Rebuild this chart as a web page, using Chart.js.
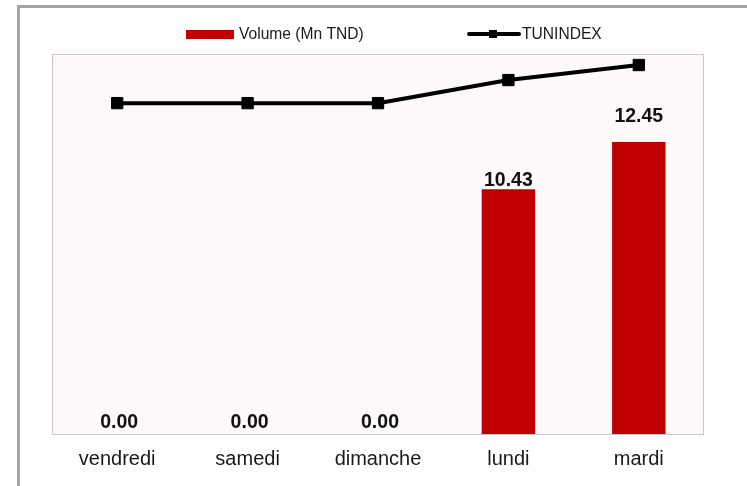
<!DOCTYPE html>
<html>
<head>
<meta charset="utf-8">
<script src="https://cdn.jsdelivr.net/npm/chart.js@4.4.1/dist/chart.umd.min.js"></script>
<style>
html,body{margin:0;padding:0;background:#fff;}
#wrap{position:relative;width:747px;height:486px;overflow:hidden;}
#frame{position:absolute;left:17px;top:5px;width:800px;height:600px;border-left:3px solid #a3a3a3;border-top:3px solid #a3a3a3;box-sizing:border-box;}
canvas{position:absolute;left:0;top:0;}
</style>
</head>
<body>
<div id="wrap"><div id="frame"></div><canvas id="c" width="747" height="486"></canvas></div>
<script>
const categories = ["vendredi", "samedi", "dimanche", "lundi", "mardi"];
const volume = [0.00, 0.00, 0.00, 10.43, 12.45];
const tunindex = [9370, 9370, 9370, 9416, 9446];
const seriesNames = ["Volume (Mn TND)", "TUNINDEX"];

const plotBg = {
  id: 'plotBg',
  beforeDraw(chart) {
    const {ctx, chartArea: a} = chart;
    ctx.save();
    ctx.fillStyle = '#fcf9f8';
    ctx.fillRect(a.left, a.top, a.right - a.left, a.bottom - a.top);
    ctx.strokeStyle = '#c8c8c8';
    ctx.lineWidth = 1;
    ctx.strokeRect(a.left + 0.5, a.top + 0.5, a.right - a.left - 1, a.bottom - a.top);
    ctx.restore();
  }
};

const barLabels = {
  id: 'barLabels',
  afterDatasetsDraw(chart, args, opts) {
    const {ctx} = chart;
    const meta = chart.getDatasetMeta(0);
    const vals = chart.data.datasets[0].data;
    ctx.save();
    ctx.font = 'bold 19.5px "Liberation Sans", Arial, sans-serif';
    ctx.fillStyle = '#111';
    ctx.textAlign = 'center';
    ctx.textBaseline = 'alphabetic';
    meta.data.forEach((bar, i) => {
      const v = vals[i];
      ctx.fillText(v.toFixed(2), bar.x + (v === 0 ? 2 : 0), bar.y - opts.gaps[i]);
    });
    ctx.restore();
  }
};

const customLegend = {
  id: 'customLegend',
  afterDraw(chart) {
    const {ctx} = chart;
    ctx.save();
    ctx.font = '15.6px "Liberation Sans", Arial, sans-serif';
    ctx.textBaseline = 'middle';
    ctx.textAlign = 'left';
    const cy = 35;
    ctx.fillStyle = '#c00000';
    ctx.fillRect(186, 30, 48, 9);
    ctx.fillStyle = '#1a1a1a';
    ctx.fillText(seriesNames[0], 239, cy);
    ctx.strokeStyle = '#000';
    ctx.lineWidth = 4;
    ctx.lineCap = 'round';
    ctx.beginPath();
    ctx.moveTo(469, 34);
    ctx.lineTo(519, 34);
    ctx.stroke();
    ctx.fillStyle = '#000';
    ctx.fillRect(489, 30, 8, 8);
    ctx.fillStyle = '#1a1a1a';
    ctx.fillText(seriesNames[1], 522, cy);
    ctx.restore();
  }
};

new Chart(document.getElementById('c'), {
  data: {
    labels: categories,
    datasets: [
      {
        type: 'bar',
        label: seriesNames[0],
        data: volume,
        yAxisID: 'y',
        backgroundColor: '#c00000',
        borderWidth: 0,
        barPercentage: 0.41,
        categoryPercentage: 1.0,
        order: 1
      },
      {
        type: 'line',
        label: seriesNames[1],
        data: tunindex,
        yAxisID: 'y2',
        borderColor: '#000',
        borderWidth: 4,
        backgroundColor: '#000',
        pointStyle: 'rect',
        pointRadius: 8,
        pointBorderWidth: 1,
        pointBackgroundColor: '#000',
        pointBorderColor: '#000',
        tension: 0,
        order: 0
      }
    ]
  },
  options: {
    responsive: false,
    animation: false,
    devicePixelRatio: 1,
    layout: {padding: {left: 52, right: 43, top: 54, bottom: 0}},
    plugins: {
      legend: {display: false},
      tooltip: {enabled: false},
      barLabels: {gaps: [6, 6, 6, 3, 20]}
    },
    scales: {
      x: {
        grid: {display: false, drawTicks: false},
        border: {display: false},
        ticks: {
          color: '#1a1a1a',
          font: {family: '"Liberation Sans", Arial, sans-serif', size: 20},
          padding: 13,
          maxRotation: 0
        },
        afterFit(s) { s.height = 52; }
      },
      y: {display: false, min: 0, max: 16.2},
      y2: {display: false, min: 8710, max: 9468}
    }
  },
  plugins: [plotBg, barLabels, customLegend]
});
</script>
</body>
</html>
